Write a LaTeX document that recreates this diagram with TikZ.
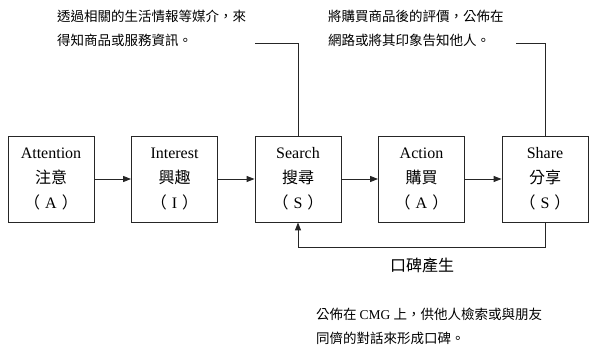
\documentclass[tikz,border=0pt]{standalone}
\usepackage{fontspec}
\setmainfont{Liberation Serif}
\newfontfamily\cjk{Noto Sans CJK TC}
\usetikzlibrary{arrows.meta}
\newcommand{\inparen}[1]{{\cjk （}\hspace{5pt}#1\hspace{5pt}{\cjk ）}}
\begin{document}
\begin{tikzpicture}[x=1pt,y=-1pt,
  stagebox/.style={draw=black!85, line width=0.9pt, minimum width=86pt, minimum height=86pt,
    inner sep=0pt, align=center, font=\fontsize{16}{25}\selectfont},
  note/.style={anchor=north west, inner sep=0pt, align=left, font=\cjk\fontsize{13.5}{23.5}\selectfont},
  link/.style={line width=0.9pt, draw=black!85},
  tip/.style={-{Triangle[length=8pt,width=6pt]}}]
\useasboundingbox (0,0) rectangle (589,347);

\node[stagebox] (att) at (51,179) {Attention\\{\cjk 注意}\\\inparen{A}};
\node[stagebox] (int) at (174.5,179) {Interest\\{\cjk 興趣}\\\inparen{I}};
\node[stagebox] (sea) at (298,179) {Search\\{\cjk 搜尋}\\\inparen{S}};
\node[stagebox] (act) at (421.5,179) {Action\\{\cjk 購買}\\\inparen{A}};
\node[stagebox] (sha) at (545,179) {Share\\{\cjk 分享}\\\inparen{S}};

\node[note] (n1) at (57,10) {透過相關的生活情報等媒介，來\\得知商品或服務資訊。};
\node[note] (n2) at (328,10) {將購買商品後的評價，公佈在\\網路或將其印象告知他人。};
\node[note] (n3) at (316,308) {公佈在 {\rmfamily CMG} 上，供他人檢索或與朋友\\同儕的對話來形成口碑。};
\node[inner sep=0pt, font=\cjk\fontsize{16}{20}\selectfont] (wom) at (422,265) {口碑產生};

\draw[link,tip] (att.east) -- (int.west);
\draw[link,tip] (int.east) -- (sea.west);
\draw[link,tip] (sea.east) -- (act.west);
\draw[link,tip] (act.east) -- (sha.west);

\coordinate (tl) at (255,43);
\coordinate (tr) at (516,43);
\coordinate (fb) at (545,247);
\draw[link] (sea.north) |- (tl);
\draw[link] (sha.north) |- (tr);
\draw[link,tip] (sha.south) -- (fb) -| (sea.south);
\end{tikzpicture}
\end{document}
